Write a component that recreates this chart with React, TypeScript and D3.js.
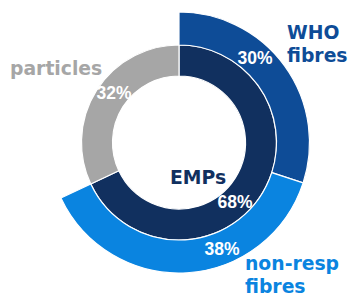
import React, { useEffect, useRef } from "react";
import * as d3 from "d3";

// inner ring: EMPs vs particles
const innerNames = ["EMPs", "particles"];
const innerValues = [68, 32];
const innerColors = ["#11305f", "#a6a6a6"];

// outer ring: split of EMPs, rest left empty
const outerNames = ["WHO fibres", "non-resp fibres", "gap"];
const outerValues = [30, 38, 32];
const outerColors = ["#0e4c97", "#0a84e0", "none"];

export default function App() {
  const svgRef = useRef<SVGSVGElement | null>(null);

  useEffect(() => {
    const width = 350;
    const height = 297;
    const cx = 179;
    const cy = 142.5;

    const svg = d3.select(svgRef.current)
      .attr("width", width)
      .attr("height", height);
    svg.selectAll("*").remove();

    const g = svg.append("g").attr("transform", `translate(${cx},${cy})`);

    const pie = d3.pie<number>().sort(null).value(d => d);

    // --- inner ring ---
    const innerArc = d3.arc<d3.PieArcDatum<number>>().innerRadius(66.5).outerRadius(97.5);
    g.selectAll(".inner")
      .data(pie(innerValues))
      .join("path")
      .attr("class", "inner")
      .attr("d", innerArc)
      .attr("fill", (d, i) => innerColors[i])
      .attr("stroke", "#fff")
      .attr("stroke-width", 1.2);

    // --- outer ring ---
    const outerArc = d3.arc<d3.PieArcDatum<number>>().innerRadius(97.5).outerRadius(130.5);
    g.selectAll(".outer")
      .data(pie(outerValues).filter((d, i) => outerColors[i] !== "none"))
      .join("path")
      .attr("class", "outer")
      .attr("d", outerArc)
      .attr("fill", (d, i) => outerColors[i])
      .attr("stroke", "#fff")
      .attr("stroke-width", 1.2);

    // --- percent labels (white) ---
    const pct = [
      { t: `${outerValues[0]}%`, x: 255, y: 64 },
      { t: `${innerValues[1]}%`, x: 114, y: 99 },
      { t: `${innerValues[0]}%`, x: 235, y: 208 },
      { t: `${outerValues[1]}%`, x: 222, y: 255 },
    ];
    svg.selectAll(".pct")
      .data(pct)
      .join("text")
      .attr("class", "pct")
      .attr("x", d => d.x)
      .attr("y", d => d.y)
      .attr("text-anchor", "middle")
      .attr("font-family", "Liberation Sans, Arial, sans-serif")
      .attr("font-weight", "bold")
      .attr("font-size", 17.5)
      .attr("fill", "#fff")
      .text(d => d.t);

    // --- category labels ---
    const labels = [
      { lines: ["WHO", "fibres"], x: 287, y: 39, color: outerColors[0] },
      { lines: ["particles"], x: 10, y: 75, color: innerColors[1] },
      { lines: [innerNames[0]], x: 170, y: 184, color: innerColors[0] },
      { lines: ["non-resp", "fibres"], x: 245, y: 270, color: outerColors[1] },
    ];
    labels.forEach(l => {
      const t = svg.append("text")
        .attr("x", l.x)
        .attr("y", l.y)
        .attr("font-family", "DejaVu Sans, Verdana, sans-serif")
        .attr("font-weight", "bold")
        .attr("font-size", 18.8)
        .attr("fill", l.color);
      l.lines.forEach((s, i) => {
        t.append("tspan").attr("x", l.x).attr("dy", i === 0 ? 0 : 23).text(s);
      });
    });
  }, []);

  return (
    <svg ref={svgRef} style={{ position: "absolute", left: 0, top: 0, background: "#fff" }} />
  );
}
